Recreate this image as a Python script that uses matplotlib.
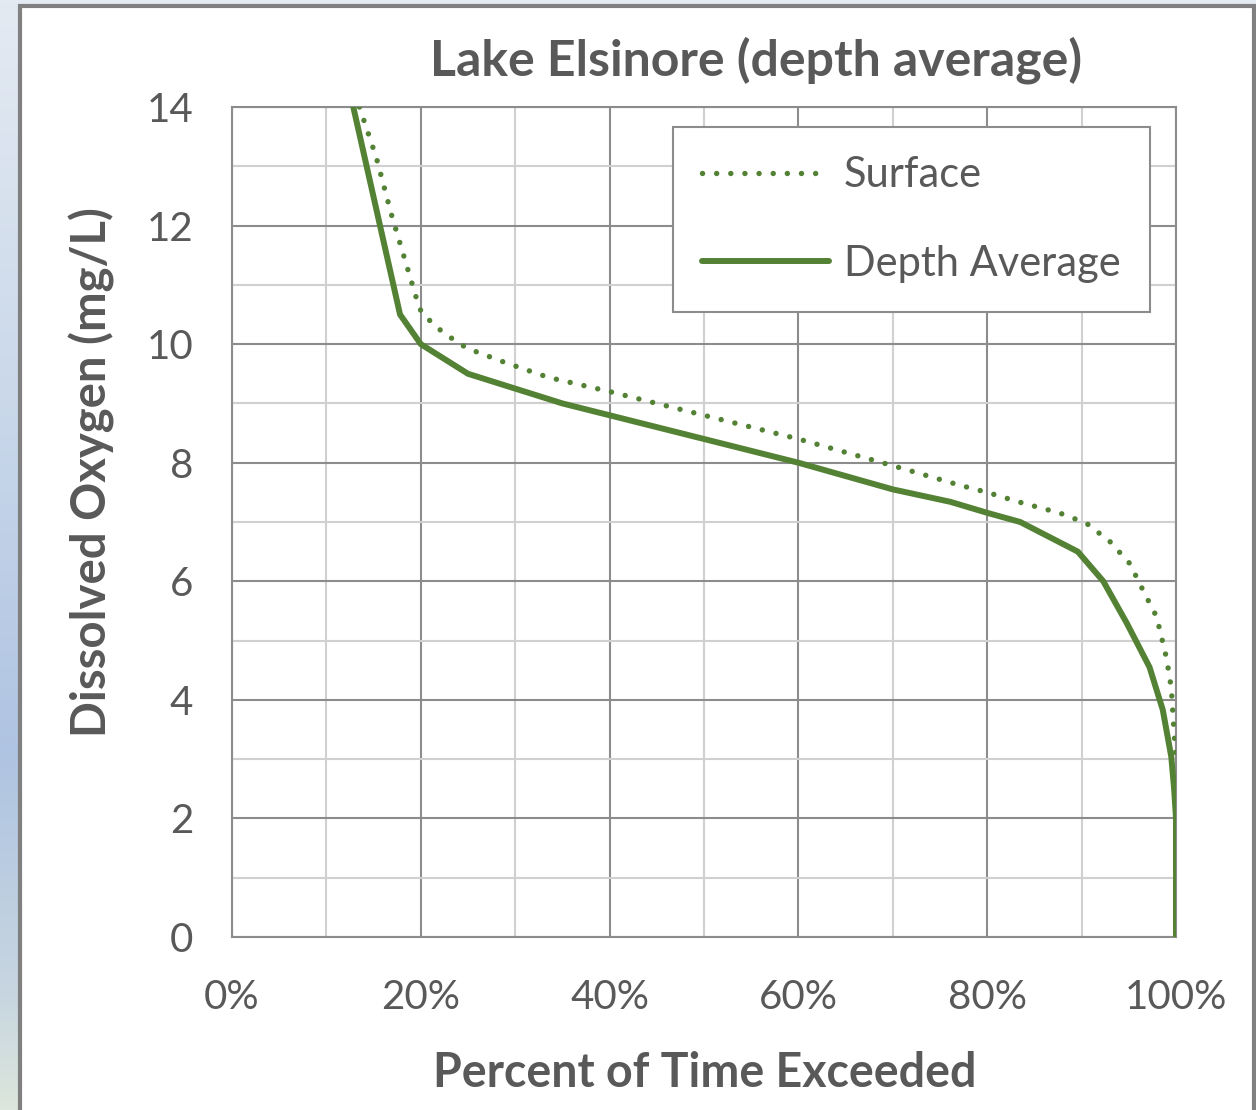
import numpy as np
import matplotlib
matplotlib.use('Agg')
import matplotlib.pyplot as plt
from matplotlib.colors import LinearSegmentedColormap
from matplotlib.patches import Rectangle
from matplotlib.ticker import MultipleLocator, PercentFormatter

# data (percent of time exceeded, DO mg/L)
surface_pct = [13.5, 15.3, 16.9, 18.7, 19.6, 20.1, 22.4, 24.9, 29.1, 33.5, 40.0, 50.0, 60.0, 70.0,
               77.1, 80.0, 83.3, 87.7, 90.5, 93.0, 95.1, 96.5, 97.95, 99.0, 99.5, 99.8, 100.0]
surface_do = [14.0, 13.14, 12.18, 11.22, 10.74, 10.52, 10.19, 9.93, 9.68, 9.44, 9.2, 8.8, 8.4, 7.95,
              7.62, 7.5, 7.34, 7.15, 6.98, 6.67, 6.3, 5.85, 5.4, 4.7, 4.2, 3.44, 3.0]
depth_pct = [12.85, 17.8, 20.0, 25.0, 30.0, 35.0, 40.0, 50.0, 60.0, 70.0, 76.1, 80.1, 83.5,
             89.6, 92.3, 94.8, 97.2, 98.6, 99.5, 99.8, 100.0, 100.0]
depth_do = [14.0, 10.5, 10.0, 9.5, 9.25, 9.0, 8.8, 8.4, 8.0, 7.55, 7.34, 7.15, 7.0,
            6.5, 6.0, 5.29, 4.55, 3.83, 3.04, 2.5, 2.0, 0.0]

title = 'Lake Elsinore (depth average)'
xlab = 'Percent of Time Exceeded'
ylab = 'Dissolved Oxygen (mg/L)'

W, H = 1256, 1110
green = '#548235'
txt = '#595959'
plt.rcParams['font.family'] = ['Lato', 'DejaVu Sans']

fig = plt.figure(figsize=(W/100., H/100.), dpi=100)

# background: bluish gradient behind a white panel
bg = fig.add_axes([0, 0, 1, 1], zorder=-10)
cmap = LinearSegmentedColormap.from_list('bg', [(0, '#e4eaf2'), (0.36, '#cad8ea'), (0.68, '#afc4e2'),
                                                 (0.9, '#c8d6e0'), (1, '#dce6dc')])
bg.imshow(np.linspace(0, 1, 256).reshape(-1, 1), aspect='auto', cmap=cmap, extent=[0, 1, 0, 1])
bg.set_xlim(0, 1); bg.set_ylim(0, 1); bg.axis('off')
bg.add_patch(Rectangle((19.5/W, -0.1), (1254-19.5)/W, 1.1 - 6/H, facecolor='white',
                       edgecolor='#808080', linewidth=3, transform=bg.transAxes))

ax = fig.add_axes([232/W, 1-937/H, 944/W, 830/H])
ax.plot(surface_pct, surface_do, color=green, lw=3.9, linestyle=(0, (0.01, 2.6)),
        dash_capstyle='round', label='Surface', zorder=3)
ax.plot(depth_pct, depth_do, color=green, lw=4.3, solid_capstyle='round',
        solid_joinstyle='round', label='Depth Average', zorder=4)

ax.set_xlim(0, 100)
ax.set_ylim(0, 14)
ax.xaxis.set_major_locator(MultipleLocator(20))
ax.xaxis.set_minor_locator(MultipleLocator(10))
ax.yaxis.set_major_locator(MultipleLocator(2))
ax.yaxis.set_minor_locator(MultipleLocator(1))
ax.xaxis.set_major_formatter(PercentFormatter(decimals=0))
ax.grid(which='major', color='#8c8c8c', lw=1.5)
ax.grid(which='minor', color='#d0d0d0', lw=1.5)
ax.set_axisbelow(True)
for s in ax.spines.values():
    s.set_color('#8c8c8c'); s.set_linewidth(1.5)
ax.tick_params(which='both', length=0, labelsize=29, labelcolor=txt)
ax.tick_params(axis='y', pad=28)
ax.tick_params(axis='x', pad=30)

leg = ax.legend(loc='upper left', bbox_to_anchor=(0.467, 0.976), borderaxespad=0, fontsize=30,
                handlelength=3.05, handletextpad=0.36, borderpad=0.7, labelspacing=1.22,
                fancybox=False, framealpha=1, edgecolor='#8c8c8c', labelcolor=txt)
leg.get_frame().set_linewidth(1.5)

fig.text(756/W, 1-75/H, title, ha='center', va='baseline', fontsize=36, fontweight='bold', color=txt)
fig.text(705/W, 1-1087/H, xlab, ha='center', va='baseline', fontsize=33.5, fontweight='bold', color=txt)
fig.text(107/W, 1-472/H, ylab, ha='center', va='baseline', rotation=90, rotation_mode='anchor',
         fontsize=34, fontweight='bold', color=txt)

fig.savefig('out.png', dpi=100)
